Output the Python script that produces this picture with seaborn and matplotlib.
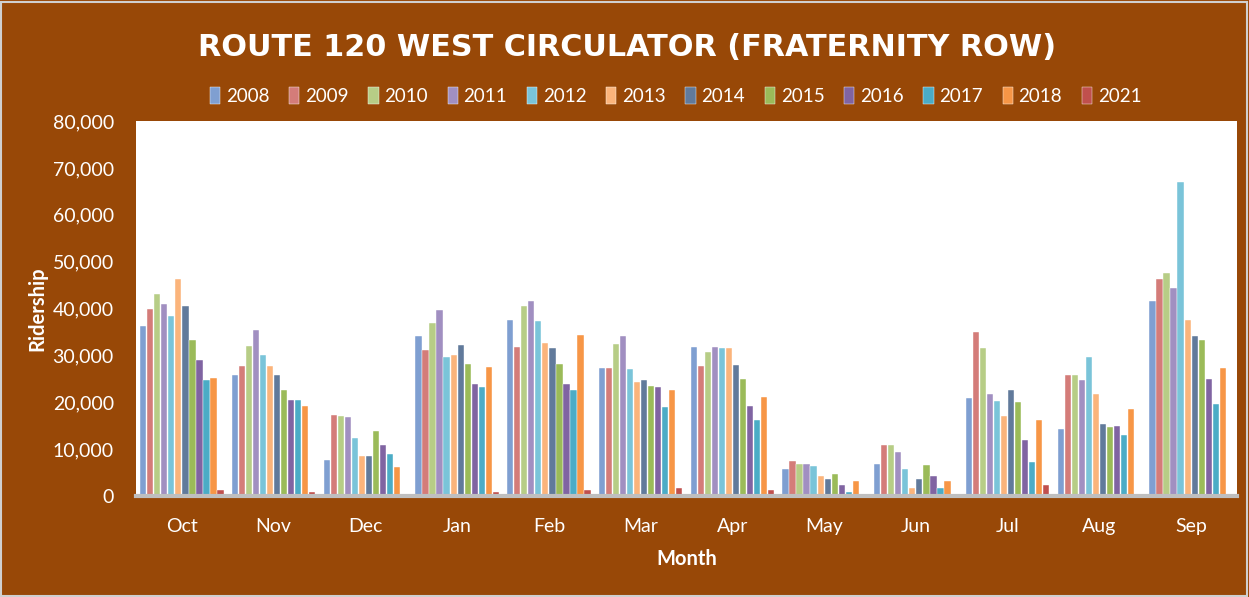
import matplotlib
matplotlib.use("Agg")
import matplotlib.pyplot as plt
import numpy as np
import pandas as pd
import seaborn as sns
from matplotlib.ticker import FuncFormatter
from matplotlib.patches import Rectangle

months = ["Oct", "Nov", "Dec", "Jan", "Feb", "Mar", "Apr", "May", "Jun", "Jul", "Aug", "Sep"]
years = ["2008", "2009", "2010", "2011", "2012", "2013", "2014", "2015", "2016", "2017", "2018", "2021"]

# ridership per year, one value per month (Oct..Sep)
r2008 = [36200, 25900, 7700, 34100, 37600, 27300, 31700, 5700, 6800, 21000, 14300, 41600]
r2009 = [39800, 27700, 17300, 31200, 31800, 27300, 27700, 7400, 10800, 34900, 25800, 46200]
r2010 = [43200, 31900, 17000, 36800, 40500, 32400, 30800, 6900, 10800, 31500, 25800, 47500]
r2011 = [40900, 35400, 16900, 39600, 41600, 34100, 31700, 6900, 9300, 21800, 24700, 44300]
r2012 = [38400, 30000, 12300, 29700, 37300, 27000, 31600, 6400, 5700, 20300, 29600, 66900]
r2013 = [46200, 27800, 8600, 30000, 32700, 24400, 31600, 4200, 1600, 17000, 21800, 37600]
r2014 = [40500, 25800, 8600, 32300, 31500, 24700, 28000, 3600, 3600, 22700, 15300, 34100]
r2015 = [33200, 22700, 13900, 28200, 28200, 23500, 25000, 4700, 6600, 20000, 14700, 33200]
r2016 = [29000, 20500, 10800, 23900, 23900, 23200, 19300, 2300, 4300, 12000, 15000, 25000]
r2017 = [24700, 20500, 8900, 23200, 22700, 19000, 16300, 850, 1600, 7300, 13000, 19700]
r2018 = [25200, 19300, 6200, 27500, 34300, 22700, 21200, 3100, 3100, 16300, 18600, 27400]
r2021 = [1300, 850, 0, 800, 1300, 1600, 1200, 0, 0, 2400, 0, 0]

colors = ["#7F9FD1", "#D47C79", "#B7CD86", "#A18FC1", "#7AC4D9", "#FBB47B",
          "#617A9B", "#9BBB59", "#8064A2", "#4BACC6", "#F79646", "#C0504D"]

series = [r2008, r2009, r2010, r2011, r2012, r2013, r2014, r2015, r2016, r2017, r2018, r2021]
rows = []
for y, vals in zip(years, series):
    for m, v in zip(months, vals):
        rows.append({"Month": m, "Year": y, "Ridership": v})
df = pd.DataFrame(rows)

brown = "#984807"
font = ["Lato", "DejaVu Sans"]

sns.set_theme(style="white")
plt.rcParams["font.family"] = font

fig = plt.figure(figsize=(12.49, 5.97), dpi=100, facecolor=brown)
fig.patches.append(Rectangle((0.001, 0.001), 0.997, 0.996, transform=fig.transFigure,
                             fill=False, edgecolor="#D0D0D0", linewidth=1.5))
ax = fig.add_axes([0.1089, 0.1692, 0.8815, 0.6281])
ax.set_facecolor("white")

sns.barplot(data=df, x="Month", y="Ridership", hue="Year", order=months,
            hue_order=years, palette=colors, width=0.92, gap=0.12,
            saturation=1, ax=ax, edgecolor="white", linewidth=0.3)

ax.set_ylim(0, 80000)
ax.set_xlim(-0.5, 11.5)
ax.set_yticks(np.arange(0, 80001, 10000))
ax.yaxis.set_major_formatter(FuncFormatter(lambda v, p: f"{int(v):,}"))
ax.tick_params(axis="both", length=0, colors="white", labelsize=14)
ax.tick_params(axis="y", pad=16)
ax.tick_params(axis="x", pad=16)

for s in ["top", "right", "left"]:
    ax.spines[s].set_visible(False)
ax.spines["bottom"].set_color("#BFBFBF")
ax.spines["bottom"].set_linewidth(3)

ax.set_xlabel("Month", color="white", fontsize=14.5, fontweight="bold", labelpad=10)
ax.set_ylabel("Ridership", color="white", fontsize=14.5, fontweight="bold", labelpad=4)

handles, labels = ax.get_legend_handles_labels()
ax.legend_.remove()
fig.legend(handles, labels, loc="center", bbox_to_anchor=(0.541, 0.839), ncol=12,
           frameon=False, fontsize=13.5, handlelength=0.55, handleheight=1.0,
           handletextpad=0.3, columnspacing=1.05, labelcolor="white")

fig.text(0.502, 0.921, "ROUTE 120 WEST CIRCULATOR (FRATERNITY ROW)", ha="center",
         va="center", color="white", fontsize=21.8, fontweight="bold",
         family=["DejaVu Sans"])

fig.savefig("out.png", dpi=100, facecolor=brown)
